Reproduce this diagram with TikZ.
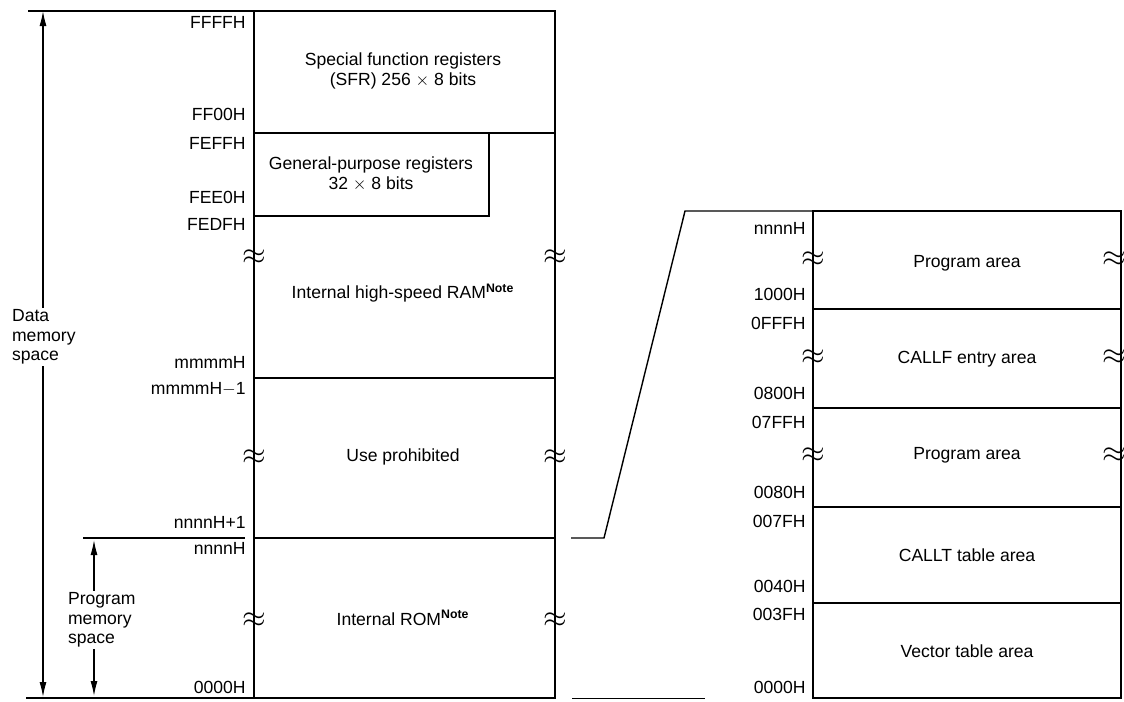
\documentclass[tikz,border=0pt]{standalone}
\usepackage{fontspec}
\setmainfont{Liberation Sans}
\usetikzlibrary{arrows.meta,positioning,calc}
\newcommand{\notemark}{\textsuperscript{\bfseries Note}}

\begin{document}
\begin{tikzpicture}[x=0.02cm,y=-0.02cm,
font=\fontsize{10}{11}\selectfont,
memline/.style={line width=1.3pt},
divline/.style={line width=0.8pt},
addr/.style={anchor=east,inner sep=0pt},
area/.style={align=center,inner sep=0pt},
brk/.style={font=\LARGE,inner sep=0pt},
arrow/.style={-{Latex[length=3mm,width=1.4mm]},line width=0.7pt}]
\useasboundingbox (0,0) rectangle (1124,701);

% data memory space map
\coordinate (dtl) at (254,11);
\coordinate (dbr) at (555,698);
\draw[memline] (dtl) rectangle (dbr);
\draw[divline] (254,133) -- (555,133);
\draw[divline] (254,216) -| (489,133);
\draw[divline] (254,378) -- (555,378);
\draw[divline] (254,538) -- (555,538);
\draw[divline] (28,11) -- (dtl);
\draw[divline] (83,538) -- (245,538);
\draw[memline] (26,698) -- (254,698);

\node[area] (sfr) at (403,71) {Special function registers\\(SFR) 256 $\times$ 8 bits};
\node[area] (gpr) at (371,174) {General-purpose registers\\32 $\times$ 8 bits};
\node[area] (ram) at (403,293) {Internal high-speed RAM\notemark};
\node[area] (prohib) at (403,457) {Use prohibited};
\node[area] (rom) at (403,618) {Internal ROM\notemark};

\node[addr] (aFFFF) at (246,22) {FFFFH};
\node[addr] (aFF00) at (246,114) {FF00H};
\node[addr] (aFEFF) at (246,143) {FEFFH};
\node[addr] (aFEE0) at (246,197) {FEE0H};
\node[addr] (aFEDF) at (246,224) {FEDFH};
\node[addr] (ammmm) at (246,362) {mmmmH};
\node[addr] (ammm1) at (246,389) {mmmmH$-$1};
\node[addr] (annn1) at (246,522) {nnnnH+1};
\node[addr] (annnn) at (246,548) {nnnnH};
\node[addr] (a0000) at (246,687) {0000H};

\foreach \y in {257,457,620} {
  \node[brk] (bl\y) at (254,\y) {$\approx$};
  \node[brk] (br\y) at (555,\y) {$\approx$};
}

% space arrows
\node[align=left,anchor=west,inner sep=1pt] (dms) at (10,337) {Data\\memory\\space};
\coordinate (dtop) at (43,11);
\coordinate (dbot) at (43,697);
\draw[arrow] (dms.north -| dtop) -- (dtop);
\draw[arrow] (dms.south -| dbot) -- (dbot);

\node[align=left,anchor=west,inner sep=1pt] (pms) at (66,620) {Program\\memory\\space};
\coordinate (ptop) at (94,540);
\coordinate (pbot) at (94,696);
\draw[arrow] (pms.north -| ptop) -- (ptop);
\draw[arrow] (pms.south -| pbot) -- (pbot);

% program memory detail
\coordinate (rtl) at (813,211);
\coordinate (rbr) at (1121,698);
\draw[memline] (rtl) rectangle (rbr);
\foreach \y in {309,408,507,603}
  \draw[divline] (813,\y) -- (1121,\y);

\coordinate (romtop) at (571,538);
\draw[divline] (romtop) -- (604,538) -- (685,211) -- (rtl);
\draw[line width=0.5pt] (572,698) -- (705,698);

\node[area] (prg1) at (967,263) {Program area};
\node[area] (callf) at (967,359) {CALLF entry area};
\node[area] (prg2) at (967,455) {Program area};
\node[area] (callt) at (967,555) {CALLT table area};
\node[area] (vect) at (967,651) {Vector table area};

\node[addr] (bnnnn) at (806,228) {nnnnH};
\node[addr] (b1000) at (806,294) {1000H};
\node[addr] (b0FFF) at (806,323) {0FFFH};
\node[addr] (b0800) at (806,393) {0800H};
\node[addr] (b07FF) at (806,422) {07FFH};
\node[addr] (b0080) at (806,492) {0080H};
\node[addr] (b007F) at (806,521) {007FH};
\node[addr] (b0040) at (806,586) {0040H};
\node[addr] (b003F) at (806,614) {003FH};
\node[addr] (b0000) at (806,687) {0000H};

\foreach \y in {259,357,455} {
  \node[brk] (cl\y) at (813,\y) {$\approx$};
  \node[brk] (cr\y) at (1114,\y) {$\approx$};
}
\end{tikzpicture}
\end{document}
